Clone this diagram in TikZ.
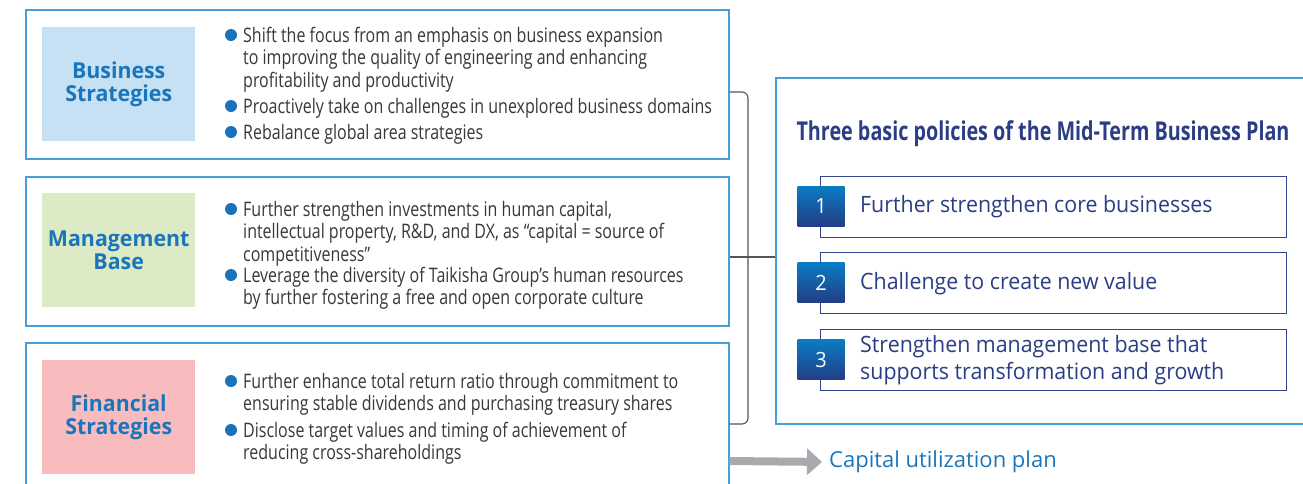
\documentclass[tikz,border=0pt]{standalone}
\usepackage{fontspec}
\setmainfont{Open Sans}
\newfontfamily\bodyf[FakeStretch=0.8]{Open Sans}
\newfontfamily\labf[FakeStretch=0.97]{Open Sans}
\newfontfamily\titf[FakeStretch=0.76]{Open Sans}
\newfontfamily\itemf[FakeStretch=0.95]{Open Sans}
\newfontfamily\capf[FakeStretch=1.0]{Open Sans}
\usetikzlibrary{arrows.meta}
\definecolor{boxblue}{HTML}{4A9ED8}
\definecolor{labblue}{HTML}{1B75BB}
\definecolor{dotblue}{HTML}{1A72BB}
\definecolor{bgA}{HTML}{C6E0F4}
\definecolor{bgB}{HTML}{DCEBC5}
\definecolor{bgC}{HTML}{F8BBBE}
\definecolor{bodygray}{HTML}{383838}
\definecolor{navy}{HTML}{2B3E85}
\definecolor{itemnavy}{HTML}{34478E}
\definecolor{sqtop}{HTML}{0A7CC3}
\definecolor{sqbot}{HTML}{223E86}
\definecolor{brk}{HTML}{555555}
\definecolor{arrgray}{HTML}{A9AAAD}
\tikzset{
  leftbox/.style={draw=boxblue, line width=1.5pt, fill=white, inner sep=0pt, anchor=north west},
  lab/.style={align=center, text=labblue, font=\labf\bfseries\fontsize{22}{23.5}\selectfont, inner sep=0pt, minimum width=153pt, minimum height=114pt, anchor=north west},
  dot/.style={circle, fill=dotblue, minimum size=12pt, inner sep=0pt},
  body/.style={font=\bodyf\fontsize{20}{22.6}\selectfont, align=left, inner sep=0pt, text=bodygray, anchor=base west},
  bigbox/.style={draw=boxblue, line width=1.5pt, inner sep=0pt, anchor=north west},
  titlestyle/.style={font=\titf\bfseries\fontsize{26}{29}\selectfont, text=navy, inner sep=0pt},
  itembox/.style={draw=itemnavy, line width=1.2pt, fill=white, inner sep=0pt, anchor=north west, minimum width=466pt, minimum height=61pt},
  numsq/.style={minimum width=47pt, minimum height=40pt, top color=sqtop, bottom color=sqbot, draw=none, text=white, font=\itemf\fontsize{21}{21}\selectfont, inner sep=0pt},
  itemtext/.style={font=\itemf\fontsize{22.5}{27}\selectfont, text=navy, align=left, inner sep=0pt, anchor=west},
  bracket/.style={draw=brk, line width=1.1pt},
  arr/.style={draw=arrgray, line width=8pt, -{Triangle[length=15pt,width=26pt]}},
}
\begin{document}
\begin{tikzpicture}[x=1pt,y=-1pt]
\useasboundingbox (0,0) rectangle (1303,483);
\begin{scope}
\clip (0,0) rectangle (1303,483);
% left boxes
\node[leftbox, minimum width=703pt, minimum height=149pt] (b1) at (25,9) {};
\node[leftbox, minimum width=703pt, minimum height=149pt] (b2) at (25,176) {};
\node[leftbox, minimum width=703pt, minimum height=170pt] (b3) at (25,342) {};
% labels
\node[lab, fill=bgA] (l1) at (42,27) {\rule{0pt}{4pt}Business\\Strategies};
\node[lab, fill=bgB] (l2) at (42,193) {\rule{0pt}{4pt}Management\\Base};
\node[lab, fill=bgC] (l3) at (42,360) {\rule{0pt}{4pt}Financial\\Strategies};
% bullets box 1 (anchor = baseline of the last line)
\node[dot] (d11) at (231,35) {};
\node[body] (t11) at (243,87.2) {Shift the focus from an emphasis on business expansion\\to improving the quality of engineering and enhancing\\profitability and productivity};
\node[dot] (d12) at (231,106) {};
\node[body] (t12) at (243,113) {Proactively take on challenges in unexplored business domains};
\node[dot] (d13) at (231,132) {};
\node[body] (t13) at (243,139) {Rebalance global area strategies};
% bullets box 2
\node[dot] (d21) at (231,209) {};
\node[body] (t21) at (243,261.2) {Further strengthen investments in human capital,\\intellectual property, R\&D, and DX, as “capital = source of\\competitiveness”};
\node[dot] (d22) at (231,275) {};
\node[body] (t22) at (243,304.6) {Leverage the diversity of Taikisha Group’s human resources\\by further fostering a free and open corporate culture};
% bullets box 3
\node[dot] (d31) at (231,381) {};
\node[body] (t31) at (243,410.6) {Further enhance total return ratio through commitment to\\ensuring stable dividends and purchasing treasury shares};
\node[dot] (d32) at (231,430) {};
\node[body] (t32) at (243,459.6) {Disclose target values and timing of achievement of\\reducing cross-shareholdings};
% right box
\node[bigbox, minimum width=540pt, minimum height=346pt] (pol) at (775,77) {};
\node[titlestyle] (tt) at (1043,134) {Three basic policies of the Mid-Term Business Plan};
\node[itembox] (i1) at (820,176) {};
\node[itembox] (i2) at (820,252) {};
\node[itembox] (i3) at (820,329) {};
\node[numsq] (n1) at (821,206) {1};
\node[numsq] (n2) at (821,282.5) {2};
\node[numsq] (n3) at (821,359.5) {3};
\node[itemtext] (it1) at (860,207) {Further strengthen core businesses};
\node[itemtext] (it2) at (860,283.5) {Challenge to create new value};
\node[itemtext] (it3) at (860,360) {Strengthen management base that\\supports transformation and growth};
% bracket
\draw[bracket, rounded corners=6pt] (b1.east |- 0,92) -- (748,92) -- (748,424) -- (b3.east |- 0,424);
\draw[bracket] (b2.east |- 0,257) -- (pol.west |- 0,257);
% capital arrow
\node[font=\capf\fontsize{22}{26}\selectfont, text=labblue, inner sep=0pt, anchor=west] (cap) at (829,462) {Capital utilization plan};
\draw[arr, shorten >=7pt] (b3.east |- 0,461) -- (cap.west);
\end{scope}
\end{tikzpicture}
\end{document}
